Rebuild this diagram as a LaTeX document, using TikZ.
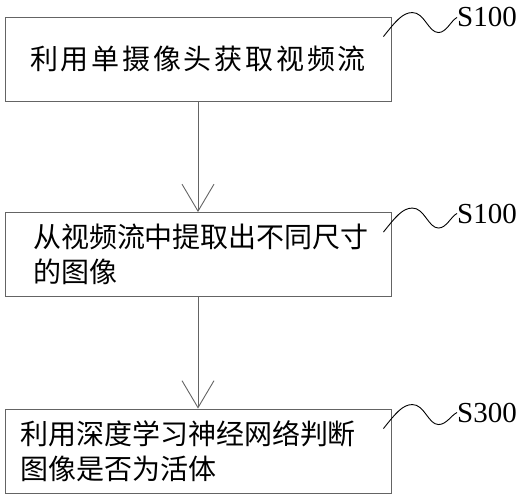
\documentclass[tikz,border=0pt]{standalone}
\usepackage{fontspec}
\setmainfont{Liberation Serif}
\newfontfamily\cjk{Noto Sans CJK SC}
\usetikzlibrary{arrows.meta}
\definecolor{linegray}{RGB}{100,100,100}
\tikzset{
  stepbox/.style={draw=linegray, line width=0.9pt, minimum width=386pt, minimum height=84pt,
    inner sep=0pt, font=\cjk\fontsize{28}{35}\selectfont},
  flow/.style={draw=linegray, line width=0.9pt, -{Straight Barb[length=27pt,width=32pt]}},
  wave/.style={draw=black, line width=0.9pt},
  steplabel/.style={inner sep=0pt, font=\fontsize{29}{29}\selectfont},
}
\begin{document}
\begin{tikzpicture}[x=1pt,y=-1pt]
        \useasboundingbox (0,0) rectangle (525,500);
        \node[stepbox] (s1) at (198,59) {\addfontfeature{LetterSpace=10}利用单摄像头获取视频流};
        \node[stepbox, text width=330pt, inner xsep=28pt, align=left] (s2) at (198,254.5) {从视频流中提取出不同尺寸\\的图像};
        \node[stepbox, text width=356pt, inner xsep=15pt, align=left] (s3) at (198,451) {利用深度学习神经网络判断\\图像是否为活体};
        \draw[flow] (s1) -- (s2);
        \draw[flow] (s2) -- (s3);
        \node[steplabel, anchor=base west] (l1) at (457,27) {S100};
        \node[steplabel, anchor=base west] (l2) at (457,223) {S100};
        \node[steplabel, anchor=base west] (l3) at (457,422) {S300};
        \foreach \i in {1,2,3}{
            \draw[wave] ([shift={(-8,20)}]s\i.north east) .. controls +(12,-15) and +(-10,0) .. ++(29,-24)
                .. controls +(12,0) and +(-10,0) .. ++(26,20) .. controls +(8,0) and +(-6,3) .. (l\i.west);
            };
    \end{tikzpicture}
\end{document}
